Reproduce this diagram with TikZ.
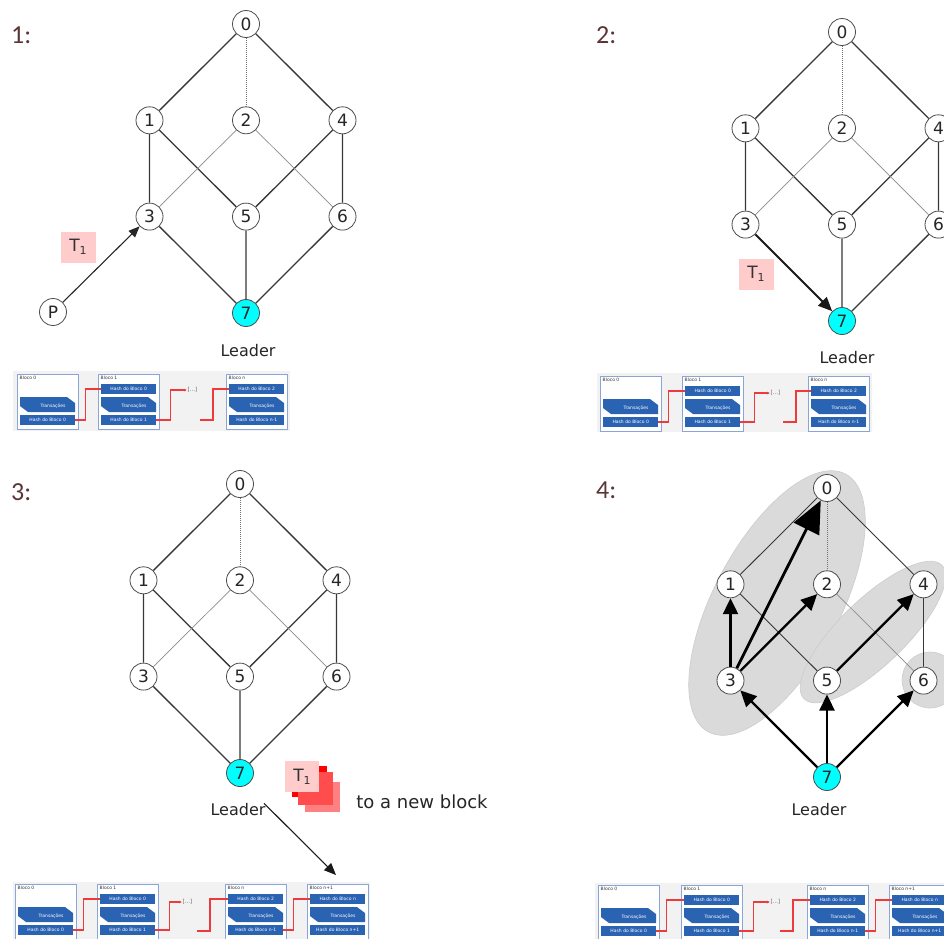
\documentclass[tikz,border=0pt]{standalone}
\usepackage{fontspec}
\newfontfamily\djv{DejaVu Sans}
\newfontfamily\crl{Carlito}
\usetikzlibrary{arrows.meta}
\definecolor{edgegray}{HTML}{383838}
\definecolor{barblue}{HTML}{2B63B3}
\definecolor{blockedge}{HTML}{8AA6D6}
\definecolor{chainred}{HTML}{EE3A3A}
\definecolor{tpink}{HTML}{FFCCCC}
\definecolor{lblbrown}{HTML}{5A3636}
\definecolor{ellgray}{HTML}{DADADA}
\definecolor{leadcyan}{HTML}{00FFFF}
\definecolor{sqA}{HTML}{FF0000}
\definecolor{sqB}{HTML}{FF4D4D}
\definecolor{sqC}{HTML}{FF8080}
\definecolor{stripbg}{HTML}{F2F2F2}

\tikzset{
 vtx/.style={circle, draw=black!70, line width=0.8pt, fill=white, minimum size=27pt, inner sep=0pt, font=\djv\fontsize{17}{17}\selectfont, text=black!85},
 leadvtx/.style={vtx, fill=leadcyan},
 sedge/.style={draw=edgegray, line width=1.3pt},
 thinedge/.style={draw=edgegray, line width=0.9pt},
 dedge/.style={draw=black!55, line width=1pt, densely dotted},
 fedge/.style={draw=black!45, line width=0.7pt},
 leadtxt/.style={font=\djv\fontsize{16}{16}\selectfont, text=black!85},
 tbox/.style={fill=tpink, minimum width=35pt, minimum height=31pt, inner sep=0pt, font=\djv\fontsize{17}{17}\selectfont, text=black!80},
 panellbl/.style={font=\crl\fontsize{26}{26}\selectfont, text=lblbrown, anchor=west, inner sep=0pt},
 blockbox/.style={draw=blockedge, line width=1.2pt, fill=white, minimum width=61pt, minimum height=55pt, anchor=north west, inner sep=0pt},
 blocktitle/.style={anchor=north west, font=\djv\fontsize{4.5}{4.5}\selectfont, inner sep=0.5pt, text=black!80},
 hashbar/.style={anchor=north west, fill=barblue, minimum width=55pt, minimum height=10pt, inner sep=0pt, text=white, font=\djv\fontsize{4.5}{4.5}\selectfont},
 transtxt/.style={font=\djv\fontsize{4.5}{4.5}\selectfont, text=white, inner sep=0pt},
 dotstxt/.style={anchor=west, font=\djv\fontsize{5.5}{5.5}\selectfont, text=black!60, inner sep=0.5pt},
 redline/.style={draw=chainred, line width=1.5pt},
 ellbox/.style={fill=ellgray, draw=black!20, line width=0.6pt},
}

\newcommand\placegraph[3]{%
 \node[vtx] (#10) at (#2,#3) {0};
 \node[vtx] (#11) at (#2-96.5,#3+96.3) {1};
 \node[vtx] (#12) at (#2,#3+96.3) {2};
 \node[vtx] (#14) at (#2+96.5,#3+96.3) {4};
 \node[vtx] (#13) at (#2-96.5,#3+192.6) {3};
 \node[vtx] (#15) at (#2,#3+192.6) {5};
 \node[vtx] (#16) at (#2+96.5,#3+192.6) {6};
 \node[leadvtx] (#17) at (#2,#3+289) {7};
}
\newcommand\cubeedges[1]{%
 \draw[sedge] (#10) -- (#11) (#10) -- (#14) (#11) -- (#13) (#11) -- (#15)
   (#14) -- (#15) (#14) -- (#16) (#15) -- (#17) (#16) -- (#17);
 \draw[dedge] (#10) -- (#12);
 \draw[fedge] (#12) -- (#13) (#12) -- (#16);
}
\newcommand\chainblock[6]{%
 \node[blockbox] (#1) at (#2,#3) {};
 \node[blocktitle] (#1t) at (#2+2,#3+1.5) {#4};
 \if\relax\detokenize{#5}\relax\else
 \node[hashbar] (#1h) at (#2+3,#3+10) {#5};\fi
 \fill[barblue] (#2+3,#3+23) -- (#2+50,#3+23) -- (#2+58,#3+29) -- (#2+58,#3+38)
   -- (#2+11,#3+38) -- (#2+3,#3+32) -- cycle;
 \node[transtxt] (#1x) at (#2+36,#3+32) {Transações};
 \node[hashbar] (#1b) at (#2+3,#3+41) {#6};
}

\begin{document}
\begin{tikzpicture}[x=1pt,y=-1pt]
\useasboundingbox (0,0) rectangle (944,938);
\clip (0,0) rectangle (944,938);
\fill[white] (0,0) rectangle (944,938);

% ---------- labels
\node[panellbl] (lab1) at (11,35) {1:};
\node[panellbl] (lab2) at (596,35) {2:};
\node[panellbl] (lab3) at (11,492) {3:};
\node[panellbl] (lab4) at (596,490) {4:};

% ---------- panel 1
\placegraph{a}{246}{24}
\cubeedges{a}
\draw[sedge] (a3) -- (a7);
\node[vtx] (pp) at (53,312) {P};
\node[tbox] (ta) at (78,247) {T\raisebox{-3pt}{\fontsize{11}{11}\selectfont 1}};
\draw[line width=1.1pt, draw=black!85, -{Triangle[length=11pt,width=9pt]}] (pp) -- (a3);
\node[leadtxt] (lda) at (248,351) {Leader};

% ---------- panel 2
\placegraph{b}{842}{32}
\cubeedges{b}
\draw[line width=2pt, draw=black!90, -{Triangle[length=14pt,width=12pt]}] (b3) -- (b7);
\node[tbox] (tb) at (756,274) {T\raisebox{-3pt}{\fontsize{11}{11}\selectfont 1}};
\node[leadtxt] (ldb) at (847,358) {Leader};

% ---------- panel 3
\placegraph{c}{240}{484}
\cubeedges{c}
\draw[sedge] (c3) -- (c7);
\node[leadtxt] (ldc) at (238,810) {Leader};
\fill[sqC] (305,782) rectangle (340,812);
\fill[sqA] (292,766) rectangle (327,797);
\fill[sqB] (298,772) rectangle (333,805);
\node[tbox, minimum width=34pt] (tc) at (302,776.5) {T\raisebox{-3pt}{\fontsize{11}{11}\selectfont 1}};
\node[font=\djv\fontsize{18}{18}\selectfont, text=black!85] (newblk) at (422,802) {to a new block};
\coordinate (arrend) at (336,875);
\draw[line width=1.1pt, draw=black!90, -{Triangle[length=12pt,width=10pt]}] ([xshift=-5pt,yshift=-3pt]ldc.north east) -- (arrend);

% ---------- panel 4
\fill[ellbox, shift={(777,603)}, rotate=62] (0,0) ellipse [x radius=146, y radius=63];
\fill[ellbox, shift={(873,632)}, rotate=44] (0,0) ellipse [x radius=96, y radius=33];
\fill[ellbox] (930,680) circle [radius=28];
\placegraph{d}{827}{488}
\draw[thinedge] (d0) -- (d1) (d0) -- (d4) (d1) -- (d5) (d4) -- (d6);
\draw[dedge] (d0) -- (d2);
\draw[fedge] (d2) -- (d6);
\tikzset{fat/.style={line width=2.3pt, draw=black, -{Triangle[length=16pt,width=15pt]}}}
\draw[fat] (d3) -- (d1);
\draw[fat] (d3) -- (d2);
\draw[line width=2.8pt, draw=black, -{Triangle[length=32pt,width=28pt]}] (d3) -- (d0);
\draw[fat] (d5) -- (d4);
\draw[fat] (d7) -- (d3);
\draw[fat] (d7) -- (d5);
\draw[fat] (d7) -- (d6);
\node[leadtxt] (ldd) at (819,810) {Leader};

% ---------- chain strip 1
\fill[stripbg] (13,371) rectangle (290,431);
\chainblock{pa}{17}{374}{Bloco 0}{}{Hash do Bloco 0}
\chainblock{pb}{98}{374}{Bloco 1}{Hash do Bloco 0}{Hash do Bloco 1}
\chainblock{pn}{226}{374}{Bloco n}{Hash do Bloco 2}{Hash do Bloco n-1}
\node[dotstxt] (pdots) at (187,390) {[...]};
\coordinate (pcont) at (200,420);
\draw[redline] (pab.east) -- ++(10,0) |- (pbh.west);
\draw[redline, -{Latex[length=3pt,width=3pt]}] (pbb.east) -- ++(14,0) |- (pdots.west);
\draw[redline] (pcont) -- ++(13,0) |- (pnh.west);

% ---------- chain strip 2
\fill[stripbg] (597,373) rectangle (872,432);
\chainblock{qa}{600}{376}{Bloco 0}{}{Hash do Bloco 0}
\chainblock{qb}{682}{376}{Bloco 1}{Hash do Bloco 0}{Hash do Bloco 1}
\chainblock{qn}{808}{376}{Bloco n}{Hash do Bloco 2}{Hash do Bloco n-1}
\node[dotstxt] (qdots) at (770,393) {[...]};
\coordinate (qcont) at (783,422);
\draw[redline] (qab.east) -- ++(10,0) |- (qbh.west);
\draw[redline, -{Latex[length=3pt,width=3pt]}] (qbb.east) -- ++(14,0) |- (qdots.west);
\draw[redline] (qcont) -- ++(13,0) |- (qnh.west);

% ---------- chain strip 3
\fill[stripbg] (13,882) rectangle (370,945);
\chainblock{ra}{15}{884}{Bloco 0}{}{Hash do Bloco 0}
\chainblock{rb}{97}{884}{Bloco 1}{Hash do Bloco 0}{Hash do Bloco 1}
\chainblock{rn}{225}{884}{Bloco n}{Hash do Bloco 2}{Hash do Bloco n-1}
\chainblock{rm}{307}{884}{Bloco n+1}{Hash do Bloco n}{Hash do Bloco n+1}
\node[dotstxt] (rdots) at (182,902) {[...]};
\coordinate (rcont) at (197,931);
\draw[redline] (rab.east) -- ++(10,0) |- (rbh.west);
\draw[redline, -{Latex[length=3pt,width=3pt]}] (rbb.east) -- ++(14,0) |- (rdots.west);
\draw[redline] (rcont) -- ++(13,0) |- (rnh.west);
\draw[redline] (rnb.east) -- ++(10,0) |- (rmh.west);

% ---------- chain strip 4
\fill[stripbg] (595,883) rectangle (950,945);
\chainblock{sa}{598}{885}{Bloco 0}{}{Hash do Bloco 0}
\chainblock{sb}{681}{885}{Bloco 1}{Hash do Bloco 0}{Hash do Bloco 1}
\chainblock{sn}{807}{885}{Bloco n}{Hash do Bloco 2}{Hash do Bloco n-1}
\chainblock{sm}{889}{885}{Bloco n+1}{Hash do Bloco n}{Hash do Bloco n+1}
\node[dotstxt] (sdots) at (770,902) {[...]};
\coordinate (scont) at (780,931);
\draw[redline] (sab.east) -- ++(10,0) |- (sbh.west);
\draw[redline, -{Latex[length=3pt,width=3pt]}] (sbb.east) -- ++(14,0) |- (sdots.west);
\draw[redline] (scont) -- ++(13,0) |- (snh.west);
\draw[redline] (snb.east) -- ++(10,0) |- (smh.west);
\end{tikzpicture}
\end{document}
